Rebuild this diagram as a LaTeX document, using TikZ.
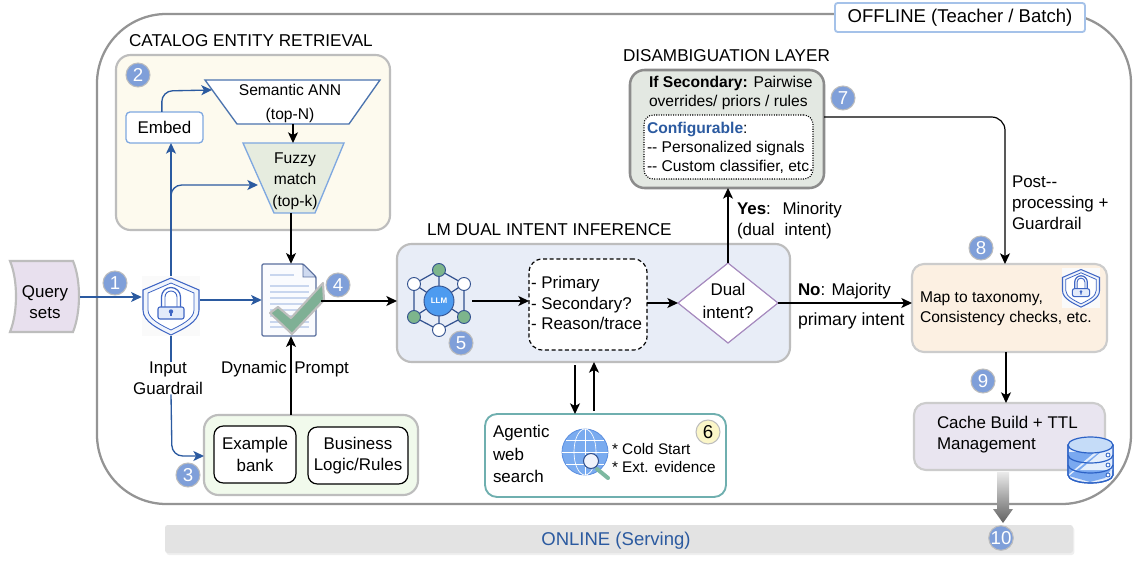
\documentclass[tikz,border=0pt]{standalone}
\usepackage{fontspec}
\setmainfont{Liberation Sans}
\usetikzlibrary{arrows.meta,shapes.geometric,shadows}
\definecolor{cblue}{HTML}{2B5AA0}
\definecolor{lblue}{HTML}{7FA8E0}
\definecolor{badgec}{HTML}{7F9FD9}
\definecolor{iconb}{HTML}{3F66C4}
\definecolor{iconf}{HTML}{E3EBFA}
\definecolor{greyb}{HTML}{BDBDBD}
\definecolor{catfill}{HTML}{FDFAEE}
\definecolor{fuzfill}{HTML}{E6ECDF}
\definecolor{qfill}{HTML}{E8E0EE}
\definecolor{docb}{HTML}{5A6F9E}
\definecolor{docf}{HTML}{FAFBFE}
\definecolor{docc}{HTML}{CFDAF0}
\definecolor{docl}{HTML}{C9D6EE}
\definecolor{chk}{HTML}{7FB095}
\definecolor{b3fill}{HTML}{F1FAEC}
\definecolor{lmfill}{HTML}{E8EDF7}
\definecolor{netb}{HTML}{32518F}
\definecolor{llmc}{HTML}{4D9BF0}
\definecolor{ngreen}{HTML}{7DB58C}
\definecolor{dmd}{HTML}{A78BBF}
\definecolor{teal1}{HTML}{6FAFAF}
\definecolor{globef}{HTML}{7AABEF}
\definecolor{globeb}{HTML}{5C8FE0}
\definecolor{handle}{HTML}{7DB8A0}
\definecolor{lens}{HTML}{F0F3FB}
\definecolor{yel}{HTML}{FBF6C8}
\definecolor{disf}{HTML}{E3E8E2}
\definecolor{mapf}{HTML}{FCF0E2}
\definecolor{cachef}{HTML}{E9E5F0}
\definecolor{dbl}{HTML}{E4EEFC}
\definecolor{dbb}{HTML}{2C62C6}
\definecolor{dbm}{HTML}{7AA9F0}
\definecolor{dbt}{HTML}{C5DCF8}
\newcommand\bx[7]{\node[#6,minimum width={(#4-#2)*0.75pt},minimum height={(#5-#3)*0.75pt},inner sep=0pt,outer sep=0pt] (#1) at ({(#2+#4)/2},{(#3+#5)/2}) {#7};}
\newcommand\badge[4]{\node[badgestyle,#4] (#1) at (#2) {#3};}
\newcommand\shieldicon[2]{%
\begin{scope}[shift={(#1)},scale=#2]
\fill[black!2] (-29,-30) rectangle (29,30);
\draw[iconb,line width=0.8pt,fill=iconf!50] (0,-28) -- (28,-16) -- (28,4) .. controls (28,16) and (12,23) .. (0,29) .. controls (-12,23) and (-28,16) .. (-28,4) -- (-28,-16) -- cycle;
\draw[iconb,line width=0.6pt,fill=white] (0,-23) -- (23,-13) -- (23,4) .. controls (23,13) and (10,19) .. (0,24) .. controls (-10,19) and (-23,13) .. (-23,4) -- (-23,-13) -- cycle;
\draw[iconb,line width=0.9pt] (-9.5,1) -- (-9.5,-9) arc[start angle=180,end angle=360,radius=9.5] -- (9.5,1);
\draw[iconb,line width=0.7pt] (-6,1) -- (-6,-9) arc[start angle=180,end angle=360,radius=6] -- (6,1);
\draw[iconb,line width=0.8pt,fill=iconf,rounded corners=1.5pt] (-13,1) rectangle (13,13);
\fill[iconb] (0,5.5) circle[radius=2.2];
\fill[iconb] (-1.1,5.5) -- (1.1,5.5) -- (0.8,10) -- (-0.8,10) -- cycle;
\end{scope}}
\tikzset{
  x=0.75pt,y=-0.75pt,
  every node/.style={font=\fontsize{12.7}{15.6}\selectfont,text=black},
  smallfont/.style={font=\fontsize{11.7}{14.25}\selectfont},
  catfont/.style={font=\fontsize{11.7}{15.6}\selectfont},
  panel/.style={draw=greyb,line width=1.6pt,rounded corners=11pt,align=center},
  inner/.style={draw=black,line width=0.9pt,rounded corners=7pt,fill=white,align=center},
  badgestyle/.style={circle,fill=badgec,draw=greyb,line width=0.8pt,minimum size=18pt,inner sep=0pt,text=white,font=\fontsize{14}{14}\selectfont},
  txt/.style={inner sep=0pt,outer sep=0pt,align=left,anchor=west},
  ctxt/.style={inner sep=0pt,outer sep=0pt,align=center},
  title/.style={inner sep=0pt,outer sep=0pt,anchor=west},
  ablack/.style={-{Stealth[length=8pt,width=7.5pt,inset=2pt]},draw=black,line width=0.9pt},
  ablue/.style={-{Stealth[length=8pt,width=7.5pt,inset=2pt]},draw=cblue,line width=1pt},
}
\begin{document}
\begin{tikzpicture}
\useasboundingbox (0,0) rectangle (1133,563);
\fill[white] (0,0) rectangle (1133,563);
% offline frame
\bx{offline}{97}{14}{1131}{504}{draw=black!42,line width=1.7pt,rounded corners=52pt}{}
\bx{offlab}{835}{3}{1085}{32}{draw=lblue!70,fill=white,line width=1.4pt,rounded corners=2pt}{\fontsize{13.9}{15}\selectfont OFFLINE (Teacher / Batch)}
% online bar
\bx{online}{165}{525}{1073}{553}{fill=black!11,rounded corners=2pt,drop shadow={opacity=.12,shadow xshift=1pt,shadow yshift=-1.5pt}}{}
\node[ctxt,text=cblue,font=\fontsize{13.9}{15}\selectfont] (onlinelab) at (616,541) {ONLINE (Serving)};
% catalog
\node[title] (cattitle) at (129,41) {\fontsize{12.85}{15}\selectfont CATALOG ENTITY RETRIEVAL};
\bx{catalog}{116}{55}{390}{230}{panel,fill=catfill}{}
\bx{embed}{126}{112}{203}{143}{draw=lblue,fill=white,line width=1pt,rounded corners=3pt}{Embed\hspace{7pt}}
\draw[draw=cblue!85,fill=white,line width=1pt] (205,80) -- (380,80) -- (349,124) -- (237,124) -- cycle;
\coordinate (semW) at (212,90);
\coordinate (semS) at (293,124);
\node[ctxt,catfont] (sem) at (290,103.5) {Semantic ANN\\[2.5pt](top-N)};
\draw[draw=lblue,fill=fuzfill,line width=1pt] (243,143) -- (344,143) -- (315,213) -- (274,213) -- cycle;
\coordinate (fuzW) at (258,185);
\coordinate (fuzN) at (293,143);
\coordinate (fuzS) at (291,213);
\node[ctxt,catfont] (fuz) at (295,181) {Fuzzy\\[0.5pt]match\\[0.5pt](top-k)};
\badge{b2}{138,75}{2}{}
% query
\node[inner sep=0pt,minimum width=52pt,minimum height=53pt] (query) at (45,296) {};
\draw[draw=greyb,line width=1.6pt,fill=qfill] (10,261) -- (73,261) .. controls (81,280) and (81,312) .. (73,332) -- (10,332) .. controls (18,312) and (18,280) .. (10,261) -- cycle;
\node[ctxt] (querytxt) at (45,302) {Query\\sets};
% shield
\node[inner sep=0pt,minimum width=43.5pt,minimum height=45pt] (shield) at (171,306) {};
\shieldicon{171,306}{1}
\node[ctxt] (glabel) at (168,378) {Input\\Guardrail};
\badge{b1}{115,283}{1}{}
% doc
\node[inner sep=0pt,minimum width=40.5pt,minimum height=54pt] (doc) at (289,300) {};
\draw[draw=docb,line width=0.9pt,fill=docf,rounded corners=1pt] (262,264) -- (303,264) -- (316,277) -- (316,336) -- (262,336) -- cycle;
\draw[draw=docb,line width=0.6pt,fill=docc] (303,264) -- (303,277) -- (316,277) -- cycle;
\foreach \yy/\xe in {275/294,286/309,292/309,298/309,304/309,310/309,316/309,322/309,327/309}{\draw[docl,line width=1.2pt] (270,\yy) -- (\xe,\yy);}
\draw[draw=black!25,line width=1.6pt,fill=chk,line join=round] (270,313) -- (278,307) -- (291,318) -- (323,283) -- (324,300) -- (292,334) -- cycle;
\badge{b4}{338,285}{4}{}
\node[ctxt] (dynlab) at (285,369.5) {Dynamic\hspace{2pt} Prompt};
% box3
\bx{box3}{204}{415}{418}{495}{panel,fill=b3fill}{}
\bx{exbank}{214}{426}{296}{483}{inner}{Example\\[0.5pt]bank}
\bx{bizrules}{308}{427}{408}{484}{inner}{Business\\[0.5pt]Logic/Rules}
\badge{b3}{188,475}{3}{}
% LLM
\node[title] (lmtitle) at (427,230) {\fontsize{12.85}{15}\selectfont LM DUAL INTENT INFERENCE};
\bx{lmbox}{397}{244}{790}{362}{panel,fill=lmfill}{}
\node[inner sep=0pt,minimum width=45pt,minimum height=52pt] (llmicon) at (439,300) {};
\draw[draw=netb,line width=0.9pt] (439,270) -- (414,284) -- (414,317) -- (439,330) -- (464,317) -- (464,284) -- cycle;
\draw[draw=netb,line width=0.9pt] (439,270) -- (439,330) (414,284) -- (464,317) (464,284) -- (414,317);
\filldraw[fill=llmc,draw=netb,line width=0.7pt] (439,301) circle[radius=15];
\node[text=white,font=\fontsize{6}{7}\bfseries\selectfont,inner sep=0pt] (llmtxt) at (439,301) {LLM};
\foreach \px/\py/\cc in {439/270/ngreen,414/284/white,464/284/white,414/317/ngreen,464/317/ngreen,439/330/white}{\filldraw[fill=\cc,draw=netb,line width=0.7pt] (\px,\py) circle[radius=6.5];}
\badge{b5}{461,343}{5}{}
\bx{outs}{529}{259}{647}{350}{draw=black,dash pattern=on 3pt off 2pt,fill=white,line width=0.9pt,rounded corners=10pt}{}
\node[txt] (outstxt) at (531,303) {- Primary\\- Secondary?\\- Reason/trace};
\node[diamond,draw=dmd,fill=white,line width=0.9pt,aspect=1.25,minimum width=75pt,minimum height=60pt,inner sep=0pt,outer sep=0pt,align=center] (dual) at (728,303) {};
\node[ctxt] (dualtxt) at (728,301) {Dual\\[1pt]intent?};
% agent
\bx{agent}{485}{414}{726}{497}{draw=teal1,fill=white,line width=1.4pt,rounded corners=9pt}{}
\node[txt] (agtxt) at (493,454) {Agentic\\[1pt]web\\[1pt]search};
\node[inner sep=0pt,minimum size=35pt] (globe) at (585,452) {};
\filldraw[fill=globef,draw=globeb,line width=0.6pt] (585,452) circle[radius=23];
\draw[white,line width=0.5pt] (585,429) -- (585,475) (562,452) -- (608,452) (566,440) -- (604,440) (566,464) -- (604,464);
\draw[white,line width=0.5pt] (585,452) ellipse[x radius=11,y radius=23];
\draw[handle,line width=3pt,line cap=round] (597,469) -- (608,478);
\draw[netb,fill=lens,line width=0.8pt] (591,461) circle[radius=7.5];
\node[txt,font=\fontsize{11.5}{14.2}\selectfont] (agnote) at (612,458) {* Cold Start\\* Ext. evidence};
\badge{b6}{708,432}{6}{fill=yel,text=black}
% disambiguation
\node[title] (distitle) at (623,56) {\fontsize{12.85}{15}\selectfont DISAMBIGUATION LAYER};
\bx{dis}{630}{70}{824}{188}{draw=black!45,line width=1.9pt,rounded corners=11pt,fill=disf}{}
\node[txt,smallfont] (distxt) at (649,92.5) {\textbf{If Secondary:} Pairwise\\overrides/ priors / rules};
\bx{conf}{644}{115}{813}{179}{draw=black,densely dotted,line width=0.8pt,rounded corners=7pt,fill=white}{}
\node[txt,smallfont] (conftxt) at (647,148) {\textcolor{cblue}{\textbf{Configurable}}:\\-{}- Personalized signals\\-{}- Custom classifier, etc.};
\badge{b7}{843,98}{7}{}
% right column
\bx{mapbox}{912}{264}{1107}{352}{draw=black!20,fill=mapf,line width=1.6pt,rounded corners=9pt}{}
\node[txt,font=\fontsize{11.7}{15}\selectfont] (maptxt) at (920,309) {Map to taxonomy,\\Consistency checks, etc.};
\node[inner sep=0pt,minimum size=27pt] (smallshield) at (1081,288) {};
\shieldicon{1081,288}{0.66}
\bx{cache}{914}{403}{1105}{470}{draw=black!20,fill=cachef,line width=1.6pt,rounded corners=9pt}{}
\node[txt] (cachetxt) at (937,435) {Cache Build + TTL\\Management};
\badge{b8}{981,248}{8}{}
\badge{b9}{983,381}{9}{}
\node[txt] (ptxt) at (1012,202.5) {Post-{}-\\processing +\\Guardrail};
\node[txt] (yestxt) at (737,220.5) {\textbf{Yes}:\hspace{4pt} Minority\\(dual\hspace{4pt} intent)};
\node[txt] (notxt) at (798,291) {\textbf{No}: Majority};
\node[txt,font=\fontsize{13.2}{15.6}\selectfont] (primtxt) at (798,321) {primary intent};
% database
\node[inner sep=0pt,minimum width=34pt,minimum height=35pt] (db) at (1091,460) {};
\filldraw[fill=dbl,draw=dbb,line width=0.9pt] (1068,445) -- (1068,475) arc[start angle=180,end angle=0,x radius=22.5,y radius=8] -- (1113,445) -- cycle;
\fill[dbm] (1069,476) -- (1108,445) -- (1112,445) -- (1112,468) -- (1105,478) -- (1090,482) -- cycle;
\fill[dbm] (1069,452) -- (1095,452) -- (1069,474) -- cycle;
\fill[dbl] (1113,446) -- (1108,446) -- (1080,470) -- (1113,470) -- cycle;
\draw[dbb,line width=0.9pt] (1068,445) -- (1068,475) arc[start angle=180,end angle=0,x radius=22.5,y radius=8] -- (1113,445);
\draw[dbb,line width=0.9pt] (1068,455) arc[start angle=180,end angle=0,x radius=22.5,y radius=8] (1068,465) arc[start angle=180,end angle=0,x radius=22.5,y radius=8];
\filldraw[fill=dbt,draw=dbb,line width=0.9pt] (1090.5,445) ellipse[x radius=22.5,y radius=8];
\foreach \cy in {455,465,475}{\draw[dbb,fill=white,line width=0.6pt] (1108,\cy) circle[radius=2];}
% connectors
\draw[ablue] (query.east |- 0,297) -- (shield.west |- 0,297);
\draw[ablue,rounded corners=8pt] ([xshift=-2pt]embed.north) -- ++(0,-21) -- (semW);
\draw[ablue] (shield.north) -- (embed.south -| shield.north);
\draw[ablue,rounded corners=8pt] (shield.north) -- (171,185) -- (fuzW);
\draw[ablue] (shield.east |- 0,300) -- (doc.west |- 0,300);
\draw[draw=cblue,line width=1pt] (shield.south) -- (glabel.north -| shield.south);
\draw[ablue,rounded corners=8pt] (glabel.south -| shield.south) -- (172,456) -- (box3.west |- 0,456);
\draw[ablack] (semS) -- (fuzN);
\draw[ablack] (fuzS) -- (doc.north -| fuzS);
\draw[ablack] (box3.north -| 291,0) -- (doc.south -| 291,0);
\draw[ablack] (doc.east |- 0,301) ++(5,0) -- (lmbox.west |- 0,301);
\draw[ablack] (llmicon.east |- 0,301) ++(3,0) -- (outs.west |- 0,301);
\draw[ablack] (outs.east |- 0,303) -- (dual.west);
\draw[ablack] (dual.north) -- (dis.south -| dual.north);
\draw[ablack] (dual.east) -- (mapbox.west |- dual.east);
\draw[ablack] (lmbox.south -| 575,0) ++(0,3) -- (agent.north -| 575,0);
\draw[ablack] (agent.north -| 594,0) ++(0,-3) -- (lmbox.south -| 594,0);
\draw[ablack,rounded corners=10pt] (dis.east |- 0,117) -- (1005,117) -- (mapbox.north -| 1005,0);
\draw[ablack] (mapbox.south -| 1006,0) -- (cache.north -| 1006,0);
\shade[top color=black!8,bottom color=black!62] (997,472) -- (1009,472) -- (1009,509) -- (1013,509) -- (1003,523) -- (993,509) -- (997,509) -- cycle;
\badge{b10}{1001,538}{10}{}
\end{tikzpicture}
\end{document}
